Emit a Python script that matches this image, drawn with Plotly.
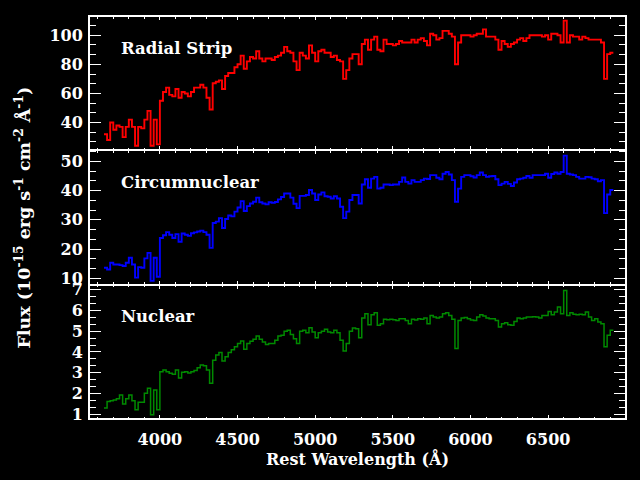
import plotly.graph_objects as go
from plotly.subplots import make_subplots

# Wavelength sampling grid (Angstrom)
wave = list(range(3640, 6921, 20))

radial_strip = [
    32, 28, 40, 35, 38, 37, 30, 37, 42, 37,
    24, 37, 36, 42, 48, 24, 42, 25, 55, 61,
    64, 59, 58, 63, 57, 61, 60, 58, 61, 64,
    64, 66, 64, 57, 49, 67, 68, 69, 63, 72,
    74, 74, 78, 80, 86, 77, 82, 85, 84, 89,
    84, 82, 84, 84, 83, 85, 86, 88, 92, 89,
    88, 82, 76, 88, 86, 84, 93, 88, 82, 89,
    90, 88, 88, 85, 86, 83, 82, 70, 76, 84,
    87, 87, 80, 94, 97, 90, 97, 99, 90, 89,
    97, 94, 94, 93, 94, 96, 95, 95, 95, 97,
    95, 97, 98, 96, 93, 101, 100, 97, 98, 103,
    103, 101, 99, 80, 95, 100, 100, 100, 99, 100,
    101, 101, 104, 99, 99, 99, 97, 90, 96, 94,
    92, 94, 95, 97, 98, 96, 98, 100, 100, 100,
    100, 99, 100, 97, 101, 101, 100, 95, 110, 95,
    100, 99, 99, 97, 99, 98, 97, 97, 97, 97,
    95, 70, 87, 88, 88,
]

circumnuclear = [
    13.6, 13.0, 15.3, 14.7, 14.7, 14.5, 14.2, 15.3, 17.0, 14.7,
    10.2, 13.8, 13.6, 16.8, 18.7, 9.1, 17.0, 10.5, 23.8, 24.7,
    25.8, 24.9, 23.8, 25.1, 22.5, 25.3, 24.9, 24.5, 25.4, 25.7,
    26.0, 26.3, 25.8, 24.9, 20.4, 28.9, 29.4, 30.6, 27.2, 30.3,
    31.5, 31.2, 32.8, 34.2, 36.4, 33.0, 34.7, 35.6, 36.2, 37.6,
    36.0, 35.6, 35.3, 36.0, 35.8, 36.1, 37.0, 37.8, 39.0, 39.0,
    37.6, 35.5, 34.0, 38.2, 38.2, 38.5, 40.2, 39.0, 36.8, 38.7,
    39.4, 38.1, 37.9, 37.3, 38.1, 37.3, 34.5, 30.6, 32.8, 36.8,
    38.5, 38.5, 35.6, 42.1, 43.9, 41.0, 44.1, 44.7, 40.7, 41.0,
    42.1, 42.1, 41.9, 42.1, 42.1, 43.0, 44.5, 43.0, 42.4, 43.6,
    43.0, 43.0, 43.6, 44.1, 44.0, 45.3, 45.3, 44.4, 43.9, 45.8,
    46.4, 45.5, 43.6, 36.2, 40.7, 44.7, 45.3, 45.3, 44.9, 44.5,
    45.3, 46.2, 45.3, 44.7, 44.9, 45.0, 43.9, 41.9, 42.4, 43.0,
    42.3, 41.6, 42.8, 43.9, 44.1, 44.4, 45.0, 44.4, 45.3, 45.3,
    45.3, 45.3, 45.8, 44.4, 45.7, 46.2, 45.8, 46.4, 52.0, 45.8,
    45.5, 45.3, 44.7, 44.1, 44.1, 44.7, 44.6, 44.1, 43.9, 43.2,
    43.6, 32.3, 38.7, 40.2, 40.2,
]

nuclear = [
    1.30, 1.61, 1.65, 1.68, 1.74, 1.93, 1.49, 1.74, 1.93, 1.65,
    1.22, 1.58, 1.58, 2.01, 2.25, 0.98, 2.17, 1.22, 3.05, 3.13,
    3.05, 2.97, 2.92, 3.13, 2.75, 3.02, 3.05, 2.99, 3.05, 3.11,
    3.24, 3.37, 3.34, 3.13, 2.49, 3.60, 3.85, 3.97, 3.56, 3.77,
    3.97, 4.10, 4.25, 4.41, 4.53, 4.13, 4.41, 4.52, 4.61, 4.77,
    4.61, 4.48, 4.36, 4.41, 4.41, 4.56, 4.77, 4.80, 5.00, 5.04,
    4.84, 4.64, 4.41, 5.00, 5.04, 4.93, 5.17, 4.96, 4.68, 4.93,
    5.00, 5.09, 4.96, 4.93, 5.04, 4.93, 4.56, 4.04, 4.41, 5.00,
    5.15, 5.12, 4.68, 5.63, 5.84, 5.31, 5.79, 5.89, 5.28, 5.36,
    5.57, 5.55, 5.57, 5.55, 5.52, 5.60, 5.60, 5.52, 5.36, 5.57,
    5.54, 5.60, 5.57, 5.63, 5.36, 5.76, 5.68, 5.63, 5.68, 5.84,
    5.89, 5.76, 5.57, 4.17, 5.52, 5.63, 5.66, 5.60, 5.54, 5.52,
    5.68, 5.79, 5.73, 5.63, 5.60, 5.60, 5.52, 5.20, 5.36, 5.41,
    5.31, 5.28, 5.47, 5.63, 5.60, 5.63, 5.68, 5.68, 5.70, 5.68,
    5.63, 5.76, 5.76, 5.95, 5.79, 5.92, 6.16, 5.84, 6.96, 5.76,
    5.89, 5.81, 5.79, 5.82, 5.79, 5.92, 5.68, 5.52, 5.60, 5.44,
    5.36, 4.25, 4.80, 5.04, 5.04,
]

panel_labels = ["Radial Strip", "Circumnuclear", "Nuclear"]
series = [radial_strip, circumnuclear, nuclear]
colors = ["#ff0000", "#0000ff", "#008a00"]
line_widths = [1.9, 1.9, 1.5]
y_ranges = [[20.9, 113.2], [7.8, 53.8], [0.77, 7.24]]
y_dticks = [20, 10, 1]
x_range = [3550, 6995]
x_tickvals = [4000, 4500, 5000, 5500, 6000, 6500]

FONT = "DejaVu Serif"
BOLD = dict(family=FONT, size=16, color="white", weight="bold")

fig = make_subplots(rows=3, cols=1, shared_xaxes=True, vertical_spacing=0)

for i, (vals, col) in enumerate(zip(series, colors)):
    fig.add_trace(
        go.Scatter(x=wave, y=vals, mode="lines",
                   line=dict(color=col, width=line_widths[i], shape="hv"),
                   showlegend=False, hoverinfo="skip"),
        row=i + 1, col=1,
    )
    fig.update_yaxes(
        row=i + 1, col=1,
        range=y_ranges[i], dtick=y_dticks[i], tick0=0,
        showline=True, linecolor="white", linewidth=2, mirror="ticks",
        ticks="inside", ticklen=11, tickwidth=1, tickcolor="white",
        minor=dict(ticks="inside", dtick=y_dticks[i] / 3, ticklen=6, tickwidth=1, tickcolor="white"),
        showgrid=False, zeroline=False,
        tickfont=BOLD,
        ticklabelstandoff=2,
    )
    fig.update_xaxes(
        row=i + 1, col=1,
        range=x_range, tickvals=x_tickvals,
        showline=True, linecolor="white", linewidth=1, mirror="ticks",
        ticks="inside", ticklen=4, tickwidth=1, tickcolor="white",
        minor=dict(ticks="inside", dtick=100, tick0=0, ticklen=2.5, tickwidth=1, tickcolor="white"),
        showgrid=False, zeroline=False,
        showticklabels=(i == 2),
        tickfont=BOLD,
        ticklabelstandoff=6,
    )

# outer top and bottom frame edges (2 px like the sides)
for yy in (0, 1):
    fig.add_shape(type="line", xref="paper", yref="paper", x0=0, x1=1, y0=yy, y1=yy,
                  line=dict(color="white", width=2))

label_y = [0.9187, 0.587, 0.2537]
for txt, yy in zip(panel_labels, label_y):
    fig.add_annotation(text=txt, xref="paper", yref="paper", x=0.055, y=yy,
                       xanchor="left", yanchor="middle", showarrow=False,
                       font=dict(family=FONT, size=16.5, color="white", weight="bold"))

fig.add_annotation(text="Rest Wavelength (Å)", xref="paper", yref="paper",
                   x=0.5, y=-0.098, xanchor="center", yanchor="middle", showarrow=False,
                   font=BOLD)
fig.add_annotation(text="Flux (10<sup>-15</sup> erg s<sup>-1</sup> cm<sup>-2</sup> Å<sup>-1</sup>)",
                   xref="paper", yref="paper", x=-0.127, y=0.5, textangle=-90,
                   xanchor="center", yanchor="middle", showarrow=False,
                   font=dict(family=FONT, size=17.5, color="white", weight="bold"))

fig.update_layout(
    width=640, height=480,
    margin=dict(l=90, r=15, t=13, b=61),
    paper_bgcolor="black", plot_bgcolor="black",
    font=dict(family=FONT, color="white"),
)

fig.write_html("out.html")
